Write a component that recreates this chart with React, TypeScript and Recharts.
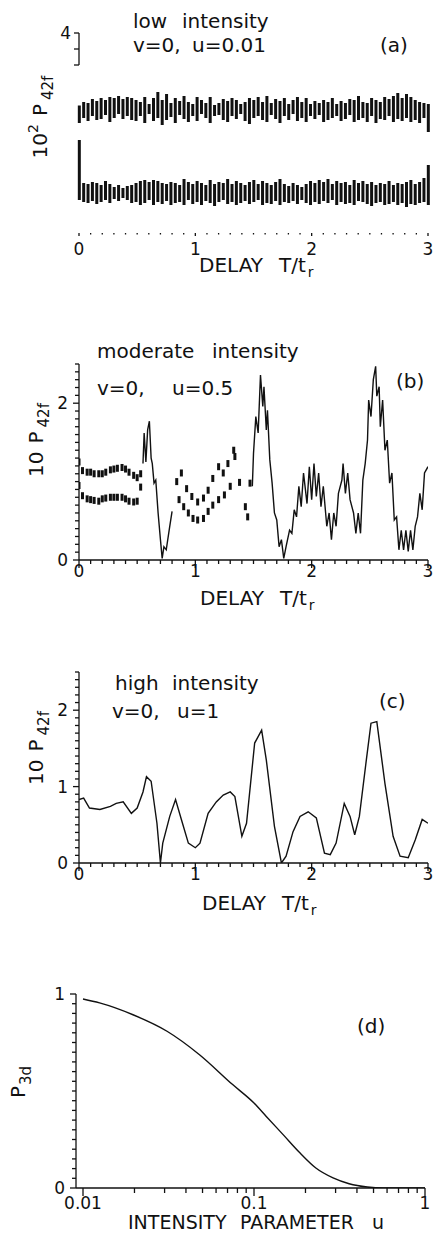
import React from 'react'
import { ComposedChart, Line, Bar, Scatter, XAxis, YAxis, ReferenceLine } from 'recharts'

const FONT = "'DejaVu Sans', sans-serif"
const INK = '#111'

// ---- tick lists
const delayTicks = [0, 0.1, 0.2, 0.3, 0.4, 0.5, 0.6, 0.7, 0.8, 0.9, 1, 1.1, 1.2, 1.3, 1.4, 1.5, 1.6, 1.7, 1.8, 1.9, 2, 2.1, 2.2, 2.3, 2.4, 2.5, 2.6, 2.7, 2.8, 2.9, 3]
const delayLabels = [0, 1, 2, 3]
const aYTicks = [3.36, 3.68, 4]
const aYLabels = [4]
const p42Ticks = [0, 0.1, 0.2, 0.3, 0.4, 0.5, 0.6, 0.7, 0.8, 0.9, 1, 1.1, 1.2, 1.3, 1.4, 1.5, 1.6, 1.7, 1.8, 1.9, 2, 2.1, 2.2, 2.3, 2.4, 2.5]
const bYLabels = [0, 2]
const cYLabels = [0, 1, 2]
const uTicks = [0.01, 0.02, 0.03, 0.04, 0.05, 0.06, 0.07, 0.08, 0.09, 0.1, 0.2, 0.3, 0.4, 0.5, 0.6, 0.7, 0.8, 0.9, 1]
const uLabels = [0.01, 0.1, 1]
const p3dTicks = [0, 0.05, 0.1, 0.15, 0.2, 0.25, 0.3, 0.35, 0.4, 0.45, 0.5, 0.55, 0.6, 0.65, 0.7, 0.75, 0.8, 0.85, 0.9, 0.95, 1]
const p3dLabels = [0, 1]

// ---- (a) low intensity: sampled min/max of the fast oscillation, two bands
const A_STEP = 0.0375
const aUpHi = [
  2.55, 2.62, 2.60, 2.68, 2.64, 2.70, 2.66, 2.72, 2.70, 2.74,
  2.68, 2.72, 2.70, 2.66, 2.62, 2.72, 2.58, 2.70, 2.82, 2.66,
  2.78, 2.60, 2.70, 2.64, 2.74, 2.62, 2.58, 2.72, 2.66, 2.60,
  2.72, 2.56, 2.60, 2.68, 2.64, 2.70, 2.66, 2.58, 2.62, 2.70,
  2.66, 2.72, 2.62, 2.74, 2.60, 2.68, 2.64, 2.70, 2.58, 2.66,
  2.72, 2.62, 2.70, 2.58, 2.64, 2.60, 2.66, 2.62, 2.70, 2.58,
  2.64, 2.60, 2.68, 2.66, 2.74, 2.62, 2.60, 2.70, 2.66, 2.62,
  2.72, 2.68, 2.74, 2.80, 2.70, 2.78, 2.72, 2.66, 2.62, 2.60,
  2.58,
]
const aUpLo = [
  2.20, 2.30, 2.24, 2.34, 2.26, 2.28, 2.36, 2.22, 2.30, 2.38,
  2.28, 2.34, 2.26, 2.24, 2.34, 2.20, 2.38, 2.24, 2.30, 2.16,
  2.26, 2.32, 2.20, 2.36, 2.28, 2.22, 2.34, 2.24, 2.38, 2.30,
  2.20, 2.34, 2.36, 2.26, 2.22, 2.34, 2.28, 2.38, 2.24, 2.18,
  2.30, 2.34, 2.26, 2.22, 2.36, 2.28, 2.20, 2.34, 2.26, 2.38,
  2.24, 2.30, 2.22, 2.34, 2.28, 2.36, 2.22, 2.26, 2.30, 2.34,
  2.24, 2.28, 2.36, 2.22, 2.26, 2.30, 2.22, 2.34, 2.20, 2.28,
  2.26, 2.34, 2.22, 2.28, 2.24, 2.30, 2.22, 2.26, 2.20, 2.30,
  2.02,
]
const aDnHi = [
  1.86, 1.00, 0.98, 1.02, 1.00, 0.96, 1.04, 0.98, 0.92, 0.96,
  0.90, 0.94, 0.96, 1.00, 1.04, 1.06, 1.02, 1.06, 1.04, 1.00,
  0.98, 1.02, 1.00, 0.96, 1.08, 1.02, 0.98, 1.04, 1.00, 0.96,
  1.06, 0.98, 1.02, 1.00, 1.08, 0.98, 1.04, 1.00, 0.96, 1.02,
  1.06, 0.98, 1.04, 1.00, 0.96, 1.02, 1.08, 0.98, 0.94, 1.00,
  0.96, 0.92, 0.98, 1.04, 1.00, 1.06, 1.02, 1.08, 0.98, 1.04,
  1.00, 1.02, 0.96, 1.06, 1.00, 1.04, 0.98, 1.02, 0.96, 1.00,
  0.98, 1.04, 0.96, 1.00, 0.98, 1.02, 1.06, 0.98, 1.02, 1.10,
  1.36,
]
const aDnLo = [
  0.66, 0.62, 0.60, 0.64, 0.58, 0.62, 0.66, 0.60, 0.68, 0.64,
  0.70, 0.66, 0.60, 0.62, 0.56, 0.60, 0.66, 0.56, 0.62, 0.58,
  0.64, 0.56, 0.60, 0.62, 0.56, 0.66, 0.58, 0.62, 0.56, 0.64,
  0.60, 0.54, 0.62, 0.66, 0.58, 0.62, 0.56, 0.60, 0.64, 0.58,
  0.62, 0.66, 0.56, 0.60, 0.58, 0.64, 0.56, 0.62, 0.60, 0.64,
  0.58, 0.66, 0.60, 0.56, 0.62, 0.58, 0.64, 0.60, 0.66, 0.56,
  0.62, 0.58, 0.60, 0.56, 0.64, 0.62, 0.58, 0.54, 0.60, 0.62,
  0.56, 0.58, 0.62, 0.56, 0.60, 0.52, 0.58, 0.56, 0.60, 0.62,
  0.56,
]
const aRows = aUpHi.map((hi, i) => ({ t: i * A_STEP, up: [aUpLo[i], hi], dn: [aDnLo[i], aDnHi[i]] }))

// ---- (b) moderate intensity: [T, 10 P42f]
const bDotsUp = [
  [0.0, 1.25], [0.03, 1.14], [0.07, 1.12], [0.10, 1.12], [0.13, 1.10], [0.17, 1.10], [0.20, 1.10], [0.23, 1.12], [0.27, 1.15],
  [0.30, 1.16], [0.33, 1.17], [0.37, 1.18], [0.40, 1.16], [0.43, 1.12], [0.47, 1.08], [0.50, 1.05], [0.53, 1.10],
  [0.84, 1.00], [0.88, 1.11], [0.925, 0.91], [0.97, 0.81], [1.02, 0.74], [1.07, 0.79], [1.11, 0.89], [1.15, 1.04],
  [1.20, 1.19], [1.24, 1.11], [1.28, 1.23], [1.33, 1.40], [1.34, 1.32], [1.47, 0.98],
]
const bDotsDn = [
  [0.0, 0.95], [0.03, 0.82], [0.07, 0.78], [0.10, 0.77], [0.13, 0.76], [0.17, 0.75], [0.20, 0.78], [0.23, 0.79], [0.27, 0.80],
  [0.30, 0.80], [0.33, 0.80], [0.37, 0.80], [0.40, 0.78], [0.43, 0.75], [0.47, 0.74], [0.50, 0.75], [0.53, 0.93],
  [0.86, 0.77], [0.90, 0.68], [0.94, 0.60], [0.98, 0.53], [1.02, 0.51], [1.07, 0.53], [1.11, 0.62], [1.15, 0.70],
  [1.20, 0.77], [1.25, 0.83], [1.30, 0.94], [1.38, 0.99], [1.43, 0.68], [1.45, 0.55],
]
const bLineA = [
  [0.55, 1.23], [0.56, 1.62], [0.575, 1.25], [0.59, 1.66], [0.605, 1.77], [0.62, 1.30], [0.63, 1.23], [0.645, 0.98],
  [0.66, 1.02], [0.68, 0.60], [0.70, 0.26], [0.715, 0.02], [0.73, 0.17], [0.75, 0.13], [0.78, 0.43], [0.80, 0.62],
]
const bLineB = [
  [1.49, 0.94], [1.50, 1.36], [1.52, 1.83], [1.54, 1.62], [1.56, 2.36], [1.58, 1.96], [1.59, 2.21], [1.61, 1.66],
  [1.62, 1.91], [1.64, 1.28], [1.66, 0.98], [1.68, 0.60], [1.70, 0.51], [1.72, 0.17], [1.74, 0.26], [1.76, 0.02],
  [1.78, 0.17], [1.81, 0.38], [1.83, 0.34], [1.85, 0.64], [1.87, 0.55], [1.89, 0.94], [1.91, 0.68], [1.93, 1.11],
  [1.96, 0.72], [1.98, 1.19], [2.00, 0.77], [2.02, 1.23], [2.04, 0.81], [2.06, 1.11], [2.08, 0.68], [2.10, 0.94],
  [2.13, 0.43], [2.15, 0.60], [2.17, 0.26], [2.19, 0.60], [2.21, 0.43], [2.23, 0.85], [2.26, 1.02], [2.27, 1.23],
  [2.29, 0.85], [2.31, 1.11], [2.33, 0.77], [2.36, 0.60], [2.38, 0.34], [2.40, 0.60], [2.42, 0.34], [2.44, 1.02],
  [2.46, 1.23], [2.48, 1.53], [2.49, 2.04], [2.51, 1.83], [2.53, 2.30], [2.55, 2.47], [2.56, 2.09], [2.58, 2.21],
  [2.59, 1.70], [2.61, 2.04], [2.63, 1.40], [2.65, 1.53], [2.67, 0.98], [2.69, 1.11], [2.71, 0.51], [2.73, 0.55],
  [2.75, 0.13], [2.77, 0.38], [2.79, 0.13], [2.81, 0.38], [2.83, 0.11], [2.85, 0.38], [2.87, 0.13], [2.89, 0.43],
  [2.91, 0.55], [2.93, 0.85], [2.95, 0.64], [2.97, 1.11], [3.00, 1.19],
]

// ---- (c) high intensity
const cLine = [
  [0.0, 0.83], [0.04, 0.85], [0.09, 0.72], [0.18, 0.70], [0.27, 0.74], [0.32, 0.78], [0.38, 0.80], [0.45, 0.65],
  [0.50, 0.72], [0.55, 0.93], [0.58, 1.13], [0.62, 1.07], [0.67, 0.52], [0.70, 0.0], [0.72, 0.26], [0.78, 0.61],
  [0.83, 0.83], [0.88, 0.57], [0.94, 0.26], [1.00, 0.20], [1.04, 0.26], [1.11, 0.65], [1.18, 0.80], [1.24, 0.89],
  [1.30, 0.93], [1.34, 0.87], [1.40, 0.35], [1.44, 0.52], [1.51, 1.57], [1.57, 1.74], [1.61, 1.35], [1.68, 0.48],
  [1.74, 0.0], [1.78, 0.09], [1.84, 0.41], [1.90, 0.61], [1.97, 0.67], [2.04, 0.59], [2.11, 0.13], [2.16, 0.11],
  [2.21, 0.26], [2.28, 0.78], [2.33, 0.61], [2.37, 0.37], [2.41, 0.61], [2.47, 1.35], [2.51, 1.83], [2.56, 1.85],
  [2.63, 1.04], [2.70, 0.35], [2.76, 0.09], [2.83, 0.07], [2.89, 0.30], [2.95, 0.57], [3.00, 0.52],
]

// ---- (d) P3d vs intensity parameter u
const dCurve = [
  [0.01, 0.974], [0.0125, 0.954], [0.0196, 0.893], [0.031, 0.808], [0.048, 0.687], [0.075, 0.533], [0.1, 0.438],
  [0.118, 0.369], [0.148, 0.275], [0.186, 0.18], [0.23, 0.103], [0.29, 0.052], [0.36, 0.022], [0.46, 0.005],
  [0.57, 0.0], [1, 0.0],
]

const pts = (a: number[][]) => a.map(([x, y]) => ({ x, y }))
const has = (list: number[], v: number) => list.some(l => Math.abs(l - v) < 1e-9)

function xTick(labels: number[], dy: number, majorLen: number, minorLen: number) {
  return (p: any) => {
    const v = Number(p.payload.value)
    const lab = has(labels, v)
    return (
      <g>
        <line x1={p.x} x2={p.x} y1={p.y} y2={p.y + (lab ? majorLen : minorLen)} stroke={INK} strokeWidth={1.3} />
        {lab && <text x={p.x} y={p.y + dy} textAnchor="middle" fontFamily={FONT} fontSize={17} fill={INK}>{String(v)}</text>}
      </g>
    )
  }
}

function yTick(labels: number[], dx: number, majorLen: number, minorLen: number) {
  return (p: any) => {
    const v = Number(p.payload.value)
    const lab = has(labels, v)
    return (
      <g>
        <line x1={p.x} x2={p.x - (lab ? majorLen : minorLen)} y1={p.y} y2={p.y} stroke={INK} strokeWidth={1.3} />
        {lab && <text x={p.x - dx} y={p.y + 6} textAnchor="end" fontFamily={FONT} fontSize={17} fill={INK}>{String(v)}</text>}
      </g>
    )
  }
}

const AXIS = { stroke: INK, strokeWidth: 1.3 }
const dash = (p: any) => <rect x={p.cx - 1.5} y={p.cy - 3.5} width={3} height={7} fill={INK} />

function PanelA() {
  return (
    <ComposedChart width={435} height={300} data={aRows} margin={{ top: 33, right: 7, bottom: 37, left: 49 }} barGap={-3}>
      <XAxis dataKey="t" type="number" domain={[0, 3]} ticks={delayTicks} interval={0} axisLine={false} tickLine={false}
        tickSize={0} tickMargin={0} height={30} tick={xTick(delayLabels, 22, 3, 1.5)} />
      <YAxis type="number" domain={[0, 4]} ticks={aYTicks} interval={0} axisLine={false} tickLine={false}
        tickSize={0} tickMargin={0} width={30} tick={yTick(aYLabels, 8, 5, 5)} />
      <ReferenceLine segment={[{ x: 0, y: 3.36 }, { x: 0, y: 4 }]} stroke={INK} strokeWidth={1.3} />
      <Bar dataKey="up" fill={INK} barSize={3} isAnimationActive={false} />
      <Bar dataKey="dn" fill={INK} barSize={3} isAnimationActive={false} />
    </ComposedChart>
  )
}

function PanelB() {
  return (
    <ComposedChart width={435} height={300} margin={{ top: 64, right: 7, bottom: 10, left: 49 }}>
      <XAxis dataKey="x" type="number" domain={[0, 3]} ticks={delayTicks} interval={0} axisLine={AXIS} tickLine={false}
        tickSize={0} tickMargin={0} height={30} tick={xTick(delayLabels, 17, 8, 4)} allowDataOverflow />
      <YAxis dataKey="y" type="number" domain={[0, 2.5]} ticks={p42Ticks} interval={0} axisLine={AXIS} tickLine={false}
        tickSize={0} tickMargin={0} width={30} tick={yTick(bYLabels, 11, 6, 4)} allowDataOverflow />
      <Scatter data={pts(bDotsUp)} fill={INK} shape={dash} isAnimationActive={false} />
      <Scatter data={pts(bDotsDn)} fill={INK} shape={dash} isAnimationActive={false} />
      <Line data={pts(bLineA)} dataKey="y" type="linear" stroke={INK} strokeWidth={1.4} dot={false} isAnimationActive={false} />
      <Line data={pts(bLineB)} dataKey="y" type="linear" stroke={INK} strokeWidth={1.4} dot={false} isAnimationActive={false} />
    </ComposedChart>
  )
}

function PanelC() {
  return (
    <ComposedChart width={435} height={300} margin={{ top: 72, right: 7, bottom: 7, left: 49 }}>
      <XAxis dataKey="x" type="number" domain={[0, 3]} ticks={delayTicks} interval={0} axisLine={AXIS} tickLine={false}
        tickSize={0} tickMargin={0} height={30} tick={xTick(delayLabels, 17, 8, 4)} allowDataOverflow />
      <YAxis dataKey="y" type="number" domain={[0, 2.5]} ticks={p42Ticks} interval={0} axisLine={AXIS} tickLine={false}
        tickSize={0} tickMargin={0} width={30} tick={yTick(cYLabels, 11, 6, 4)} allowDataOverflow />
      <Line data={pts(cLine)} dataKey="y" type="linear" stroke={INK} strokeWidth={1.4} dot={false} isAnimationActive={false} />
    </ComposedChart>
  )
}

function PanelD() {
  return (
    <ComposedChart width={435} height={284} margin={{ top: 44, right: 10, bottom: 16, left: 46 }}>
      <XAxis dataKey="x" type="number" scale="log" domain={[0.0091, 1]} ticks={uTicks} interval={0} axisLine={AXIS} tickLine={false}
        tickSize={0} tickMargin={0} height={30} tick={xTick(uLabels, 21, 8, 5)} allowDataOverflow />
      <YAxis dataKey="y" type="number" domain={[0, 1]} ticks={p3dTicks} interval={0} axisLine={AXIS} tickLine={false}
        tickSize={0} tickMargin={0} width={30} tick={yTick(p3dLabels, 11, 6, 4)} allowDataOverflow />
      <Line data={pts(dCurve)} dataKey="y" type="monotone" stroke={INK} strokeWidth={1.4} dot={false} isAnimationActive={false} />
    </ComposedChart>
  )
}

function DelayTitle({ x, y }: { x: number; y: number }) {
  return (
    <>
      <text x={x} y={y} fontSize={20}>DELAY</text>
      <text x={x + 80} y={y} fontSize={20}>T/t<tspan fontSize={14} dx={2} dy={5}>r</tspan></text>
    </>
  )
}

function P42Title({ x, y, exp }: { x: number; y: number; exp?: string }) {
  return (
    <text transform={`translate(${x},${y}) rotate(-90)`} textAnchor="middle" fontSize={20}>
      10{exp && <tspan fontSize={14} dy={-9}>{exp}</tspan>}
      <tspan dx={8} dy={exp ? 9 : 0}>P</tspan>
      <tspan fontSize={15} dx={4} dy={6}>42f</tspan>
    </text>
  )
}

export default function App() {
  return (
    <div style={{ position: 'relative', width: 435, height: 1234, background: '#fff' }}>
      <style>{'body{margin:0}'}</style>
      <div style={{ position: 'absolute', left: 0, top: 0 }}><PanelA /></div>
      <div style={{ position: 'absolute', left: 0, top: 300 }}><PanelB /></div>
      <div style={{ position: 'absolute', left: 0, top: 600 }}><PanelC /></div>
      <div style={{ position: 'absolute', left: 0, top: 950 }}><PanelD /></div>
      <svg width={435} height={1234} style={{ position: 'absolute', left: 0, top: 0, pointerEvents: 'none' }}
        fontFamily={FONT} fill={INK}>
        {/* (a) */}
        <text x={133} y={28} fontSize={20}>low</text>
        <text x={182} y={28} fontSize={20}>intensity</text>
        <text x={133} y={52} fontSize={20}>v=0,</text>
        <text x={192} y={52} fontSize={20}>u=0.01</text>
        <text x={380} y={52} fontSize={20}>(a)</text>
        <P42Title x={47} y={117} exp="2" />
        <DelayTitle x={199} y={272} />

        {/* (b) */}
        <text x={97} y={358} fontSize={20}>moderate</text>
        <text x={212} y={358} fontSize={20}>intensity</text>
        <text x={97} y={395} fontSize={20}>v=0,</text>
        <text x={172} y={395} fontSize={20}>u=0.5</text>
        <text x={396} y={388} fontSize={20}>(b)</text>
        <P42Title x={43} y={440} />
        <DelayTitle x={200} y={605} />

        {/* (c) */}
        <text x={115} y={690} fontSize={20}>high</text>
        <text x={172} y={690} fontSize={20}>intensity</text>
        <text x={112} y={718} fontSize={20}>v=0,</text>
        <text x={177} y={718} fontSize={20}>u=1</text>
        <text x={379} y={708} fontSize={20}>(c)</text>
        <P42Title x={43} y={748} />
        <DelayTitle x={202} y={910} />

        {/* (d) */}
        <text x={357} y={1033} fontSize={20}>(d)</text>
        <text transform="translate(25,1082) rotate(-90)" textAnchor="middle" fontSize={20}>
          P<tspan fontSize={15} dx={1} dy={6}>3d</tspan>
        </text>
        <text x={128} y={1229} fontSize={19}>INTENSITY</text>
        <text x={240} y={1229} fontSize={19}>PARAMETER</text>
        <text x={372} y={1229} fontSize={19}>u</text>
      </svg>
    </div>
  )
}
